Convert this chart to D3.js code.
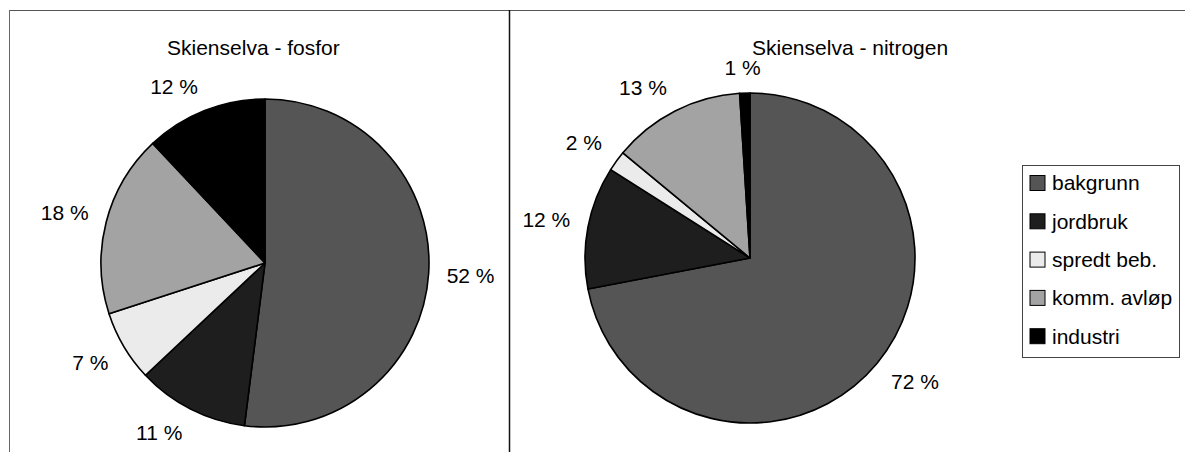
<!DOCTYPE html>
<html>
<head>
<meta charset="utf-8">
<script src="https://cdn.jsdelivr.net/npm/d3@7"></script>
<style>
  body { margin: 0; background: #fff; }
  svg { display: block; }
  text { font-family: "Liberation Sans", Arial, sans-serif; font-size: 21px; fill: #000; }
</style>
</head>
<body>
<svg></svg>
<script>
'use strict';

// data
var categories = ['bakgrunn', 'jordbruk', 'spredt beb.', 'komm. avløp', 'industri'];
var fosfor = [52, 11, 7, 18, 12];
var nitrogen = [72, 12, 2, 13, 1];
var titles = ['Skienselva - fosfor', 'Skienselva - nitrogen'];

function render() {
    var w = 1185;
    var h = 452;
    var svg = d3.select('svg').attr('width', w).attr('height', h);

    var color = d3.scaleOrdinal()
        .domain(categories)
        .range(['#555555', '#1e1e1e', '#ebebeb', '#a3a3a3', '#000000']);

    // panel frame
    svg.append('line').attr('x1', 9).attr('x2', w).attr('y1', 10.5).attr('y2', 10.5)
        .attr('stroke', '#555').attr('stroke-width', 1);
    svg.append('line').attr('x1', 9.5).attr('x2', 9.5).attr('y1', 10).attr('y2', h)
        .attr('stroke', '#666').attr('stroke-width', 1);
    svg.append('line').attr('x1', 509.5).attr('x2', 509.5).attr('y1', 10).attr('y2', h)
        .attr('stroke', '#111').attr('stroke-width', 1.5);

    var pies = [
        { values: fosfor, title: titles[0], cx: 265, cy: 263, r: 164, tx: 167 },
        { values: nitrogen, title: titles[1], cx: 750, cy: 258, r: 165, tx: 752 }
    ];

    var pie = d3.pie().sort(null).value(function (d) { return d.value; });

    pies.forEach(function (p) {
        var rows = categories.map(function (c, i) { return { key: c, value: p.values[i] }; });
        var arcs = pie(rows);
        var arc = d3.arc().innerRadius(0).outerRadius(p.r);
        var g = svg.append('g').attr('transform', 'translate(' + p.cx + ',' + p.cy + ')');

        g.selectAll('path').data(arcs).enter().append('path')
            .attr('d', arc)
            .attr('fill', function (d) { return color(d.data.key); })
            .attr('stroke', '#000')
            .attr('stroke-width', 1.6)
            .attr('stroke-linejoin', 'round');

        // labels outside the slice ends
        var pad = 18;
        var lh = 15;
        var clamp = function (v) { return Math.max(-1, Math.min(1, v)); };
        g.selectAll('text.lbl').data(arcs).enter().append('text')
            .attr('class', 'lbl')
            .attr('text-anchor', 'middle')
            .attr('dy', '0.35em')
            .text(function (d) { return d.data.value + ' %'; })
            .each(function (d) {
                var a = (d.startAngle + d.endAngle) / 2;
                var ux = Math.sin(a), uy = -Math.cos(a);
                var tw = this.getComputedTextLength();
                var x = ux * (p.r + pad) + tw / 2 * clamp(ux * 3);
                var y = uy * (p.r + pad) + lh / 2 * clamp(uy * 3);
                d3.select(this).attr('x', x).attr('y', y);
            });

        svg.append('text')
            .attr('x', p.tx).attr('y', 55)
            .text(p.title);
    });

    // legend
    var lg = svg.append('g').attr('transform', 'translate(1022,165)');
    lg.append('rect').attr('x', 0.5).attr('y', 0.5).attr('width', 157).attr('height', 192)
        .attr('fill', '#fff').attr('stroke', '#444').attr('stroke-width', 1);
    var item = lg.selectAll('g.item').data(categories).enter().append('g')
        .attr('class', 'item')
        .attr('transform', function (d, i) { return 'translate(8,' + (18 + i * 38.3) + ')'; });
    item.append('rect').attr('x', 0).attr('y', -7.5).attr('width', 15).attr('height', 15)
        .attr('fill', function (d) { return color(d); })
        .attr('stroke', '#000').attr('stroke-width', 1);
    item.append('text').attr('x', 22).attr('dy', '0.35em').text(function (d) { return d; });
}

render();
</script>
</body>
</html>
